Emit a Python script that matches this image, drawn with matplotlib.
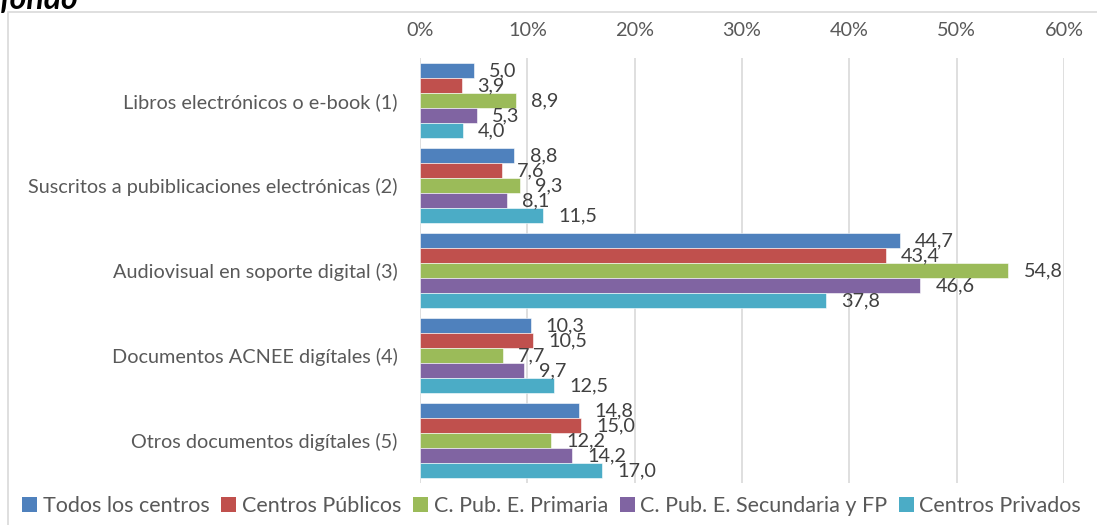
import numpy as np
import matplotlib.pyplot as plt
from matplotlib.patches import Patch, Rectangle

plt.rcParams['font.family'] = ['Lato', 'DejaVu Sans']

# categories (top to bottom) and series values in %
categorias = ['Libros electrónicos o e-book (1)',
              'Suscritos a pubiblicaciones electrónicas (2)',
              'Audiovisual en soporte digital (3)',
              'Documentos ACNEE digítales (4)',
              'Otros documentos digítales (5)']
series = ['Todos los centros', 'Centros Públicos', 'C. Pub. E. Primaria',
          'C. Pub. E. Secundaria y FP', 'Centros Privados']
todos = [5.0, 8.8, 44.7, 10.3, 14.8]
publicos = [3.9, 7.6, 43.4, 10.5, 15.0]
primaria = [8.9, 9.3, 54.8, 7.7, 12.2]
secundaria = [5.3, 8.1, 46.6, 9.7, 14.2]
privados = [4.0, 11.5, 37.8, 12.5, 17.0]
ticks = [0, 10, 20, 30, 40, 50, 60]

valores = [todos, publicos, primaria, secundaria, privados]
colores = ['#4F81BD', '#C0504D', '#9BBB59', '#8064A2', '#4BACC6']
fs = 14.3

fig = plt.figure(figsize=(10.97, 5.25), dpi=100)
ax = fig.add_axes([420/1097, 1 - 483/525, 644/1097, 425/525])

y = np.arange(len(categorias))
h = 0.176
for j, (vals, col) in enumerate(zip(valores, colores)):
    pos = y + (j - 2) * h
    ax.barh(pos, vals, height=h, color=col, edgecolor='white', linewidth=0.4, zorder=3)
    for p, v in zip(pos, vals):
        ax.annotate(f'{v:.1f}'.replace('.', ','), (v, p), xytext=(11, 0),
                    textcoords='offset points', ha='left', va='center',
                    fontsize=fs, color='#404040', zorder=4)

ax.set_xlim(0, 60)
ax.set_ylim(len(categorias) - 0.5, -0.5)
ax.set_xticks(ticks)
ax.set_xticklabels([f'{t}%' for t in ticks])
ax.xaxis.tick_top()
ax.set_yticks(y)
ax.set_yticklabels(categorias)
ax.tick_params(axis='x', length=0, pad=14, labelsize=fs, labelcolor='#595959')
ax.tick_params(axis='y', length=0, pad=16, labelsize=fs, labelcolor='#595959')
ax.grid(axis='x', color='#d9d9d9', linewidth=1.2, zorder=0)
for s in ax.spines.values():
    s.set_visible(False)

handles = [Patch(facecolor=c, edgecolor='none') for c in colores]
fig.legend(handles, series, loc='center', bbox_to_anchor=(0.503, 0.036), ncol=5,
           frameon=False, fontsize=15.5, handlelength=0.7, handleheight=0.7,
           handletextpad=0.25, columnspacing=0.55, labelcolor='#595959')

# chart frame (continues past the right and bottom edge)
fig.patches.append(Rectangle((8/1097, -0.1), 1.2, 1.1 - 12/525, transform=fig.transFigure,
                             fill=False, edgecolor='#d9d9d9', linewidth=1.2))

# cut-off title from above
fig.text(0.0, 1 - 9/525, 'fondo', fontsize=23, fontweight='bold', fontstyle='italic',
         ha='left', va='baseline', color='#000000')

fig.savefig('out.png', dpi=100)
